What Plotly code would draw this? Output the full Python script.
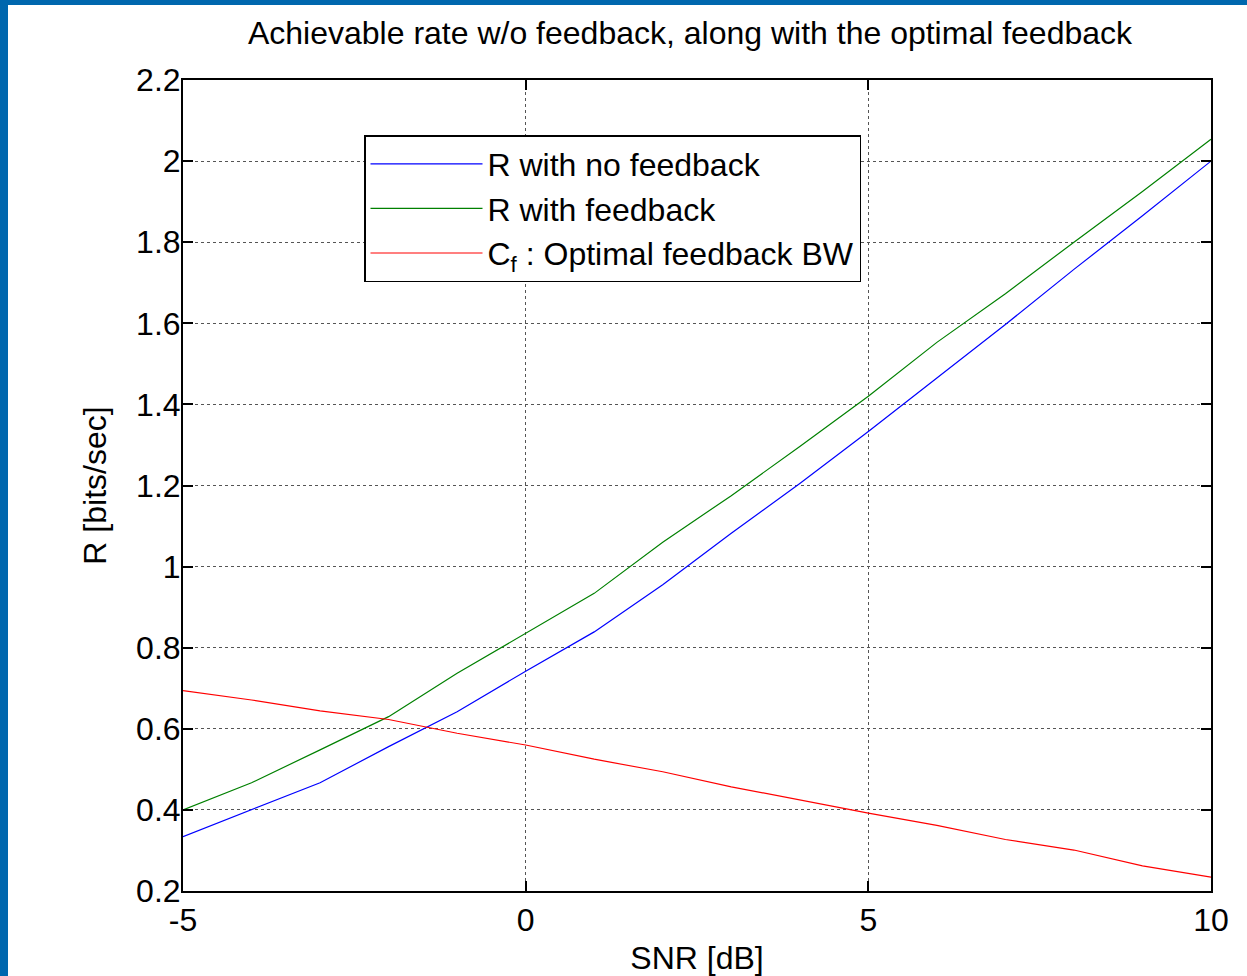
import plotly.graph_objects as go

snr_db = [-5, -4, -3, -2, -1, 0, 1, 2, 3, 4, 5, 6, 7, 8, 9, 10]
rate_no_feedback = [0.334, 0.400, 0.467, 0.556, 0.642, 0.742, 0.839, 0.955, 1.082,
                    1.205, 1.333, 1.465, 1.597, 1.733, 1.865, 2.000]
rate_feedback = [0.400, 0.467, 0.548, 0.630, 0.737, 0.836, 0.934, 1.060, 1.175,
                 1.296, 1.420, 1.553, 1.673, 1.800, 1.925, 2.054]
cf_optimal = [0.694, 0.671, 0.644, 0.623, 0.589, 0.560, 0.525, 0.494, 0.457,
              0.424, 0.392, 0.362, 0.327, 0.301, 0.262, 0.234]

series_names = ["R with no feedback", "R with feedback", "C<sub>f</sub> : Optimal feedback BW"]
series_colors = ["#0000FF", "#008000", "#FF0000"]
x_ticks = [-5, 0, 5, 10]
y_ticks = [0.2, 0.4, 0.6, 0.8, 1.0, 1.2, 1.4, 1.6, 1.8, 2.0, 2.2]
y_tick_text = ["0.2", "0.4", "0.6", "0.8", "1", "1.2", "1.4", "1.6", "1.8", "2", "2.2"]

FONT = "Liberation Sans, Arial, sans-serif"
FS = 32
W, H = 1247, 976
L, R, T, B = 183, 36, 80, 85

fig = go.Figure()
for i, (ys, name, col) in enumerate(zip([rate_no_feedback, rate_feedback, cf_optimal],
                                         series_names, series_colors)):
    fig.add_trace(go.Scatter(x=snr_db, y=ys, mode="lines", name=name,
                             legendgroup=f"g{i}",
                             line=dict(color=col, width=1.2)))

axis_common = dict(
    showline=True, linecolor="black", linewidth=2, mirror="ticks",
    ticks="inside", ticklen=10, tickcolor="black", tickwidth=1.5,
    showgrid=True, gridcolor="#555555", griddash="dot", gridwidth=1,
    zeroline=False,
    tickfont=dict(family=FONT, size=FS, color="black"),
)

fig.update_xaxes(range=[-5, 10], tickvals=x_ticks, ticktext=[str(v) for v in x_ticks],
                 ticklabelstandoff=0,
                 title=dict(text="SNR [dB]", font=dict(family=FONT, size=FS, color="black"),
                            standoff=18),
                 **axis_common)
fig.update_yaxes(range=[0.2, 2.2], tickvals=y_ticks, ticktext=y_tick_text,
                 ticklabelstandoff=-6,
                 title=dict(text="R [bits/sec]", font=dict(family=FONT, size=FS, color="black"),
                            standoff=20),
                 **axis_common)

# blue slide border (left and top strips)
pw, ph = W - L - R, H - T - B
def px_x(px):
    return (px - L) / pw
def px_y(py):
    return (H - B - py) / ph

border_col = "#0067AE"
fig.add_shape(type="rect", xref="paper", yref="paper",
              x0=px_x(0), x1=px_x(8), y0=px_y(H), y1=px_y(0),
              fillcolor=border_col, line=dict(width=0), layer="below")
fig.add_shape(type="rect", xref="paper", yref="paper",
              x0=px_x(0), x1=px_x(W), y0=px_y(5), y1=px_y(0),
              fillcolor=border_col, line=dict(width=0), layer="below")

fig.update_layout(
    width=W, height=H,
    margin=dict(l=L, r=R, t=T, b=B, autoexpand=False),
    paper_bgcolor="white", plot_bgcolor="white",
    font=dict(family=FONT, size=FS, color="black"),
    title=dict(text="Achievable rate w/o feedback, along with the optimal feedback",
               font=dict(family=FONT, size=FS, color="black"),
               x=px_x(690), xref="paper", xanchor="center",
               y=1 - 33 / H, yref="container", yanchor="middle"),
    legend=dict(x=px_x(364), y=px_y(135), xanchor="left", yanchor="top",
                bordercolor="black", borderwidth=1.5, bgcolor="white",
                font=dict(family=FONT, size=FS, color="black"),
                tracegroupgap=4, itemwidth=112,
                traceorder="normal"),
    showlegend=True,
)

fig.write_html("out.html")
